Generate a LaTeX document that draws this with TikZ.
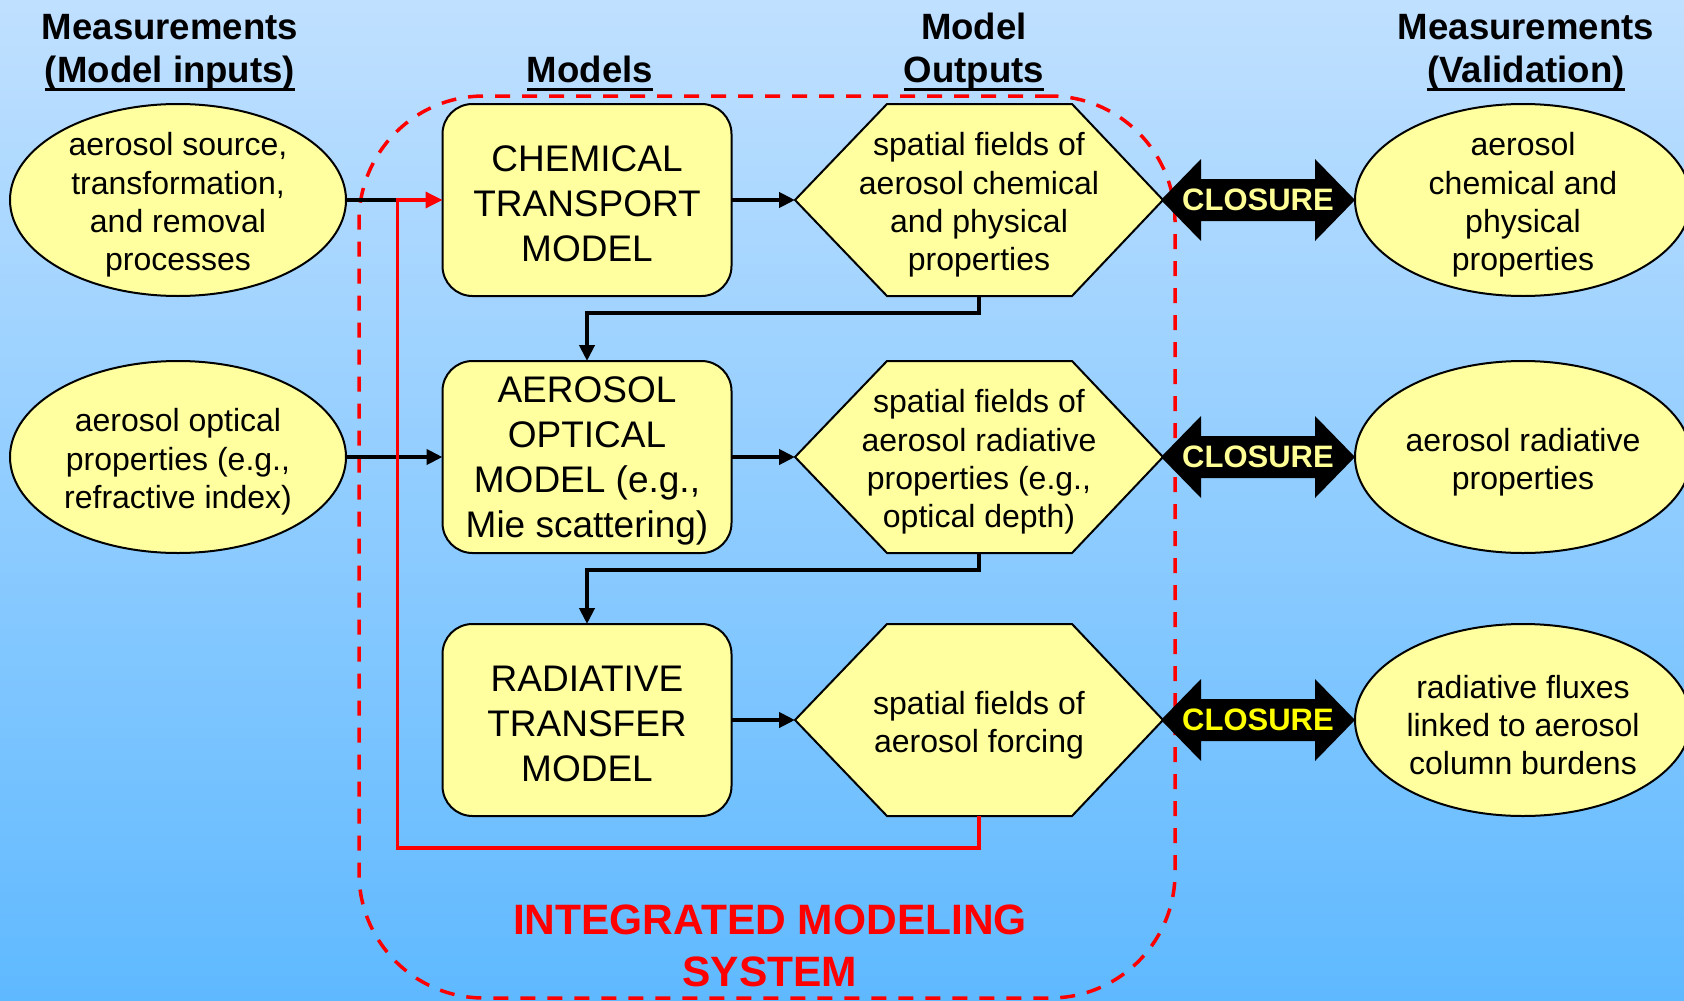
\documentclass[tikz,border=0pt]{standalone}
\usepackage{fontspec}
\setmainfont{Liberation Sans}
\usetikzlibrary{shapes.geometric,arrows.meta}
\definecolor{skytop}{RGB}{192,224,255}
\definecolor{skybot}{RGB}{95,185,255}
\definecolor{paleyel}{RGB}{255,255,160}
\definecolor{clsA}{RGB}{255,255,150}
\definecolor{clsB}{RGB}{255,255,0}
\begin{document}
\begin{tikzpicture}[x=1pt,y=-1pt,
  every node/.style={inner sep=0pt, outer sep=0pt},
  oval/.style={ellipse, draw=black, line width=2pt, fill=paleyel,
    minimum width=336pt, minimum height=192pt},
  body/.style={align=center, yshift=-5pt, font=\fontsize{32pt}{38.3pt}\selectfont},
  model/.style={rectangle, rounded corners=30pt, draw=black, line width=2pt,
    fill=paleyel, minimum width=289pt, minimum height=192pt},
  modeltext/.style={align=center, yshift=-4pt, font=\fontsize{37pt}{44.8pt}\selectfont},
  hexbox/.style={minimum width=368pt, minimum height=192pt},
  hexshape/.style={draw=black, line width=2pt, fill=paleyel, line join=miter},
  head/.style={anchor=base, font=\bfseries\fontsize{36.6pt}{43pt}\selectfont},
  uline/.style={line width=3pt},
  conn/.style={draw=black, line width=4.5pt, line join=miter,
    -{Triangle[length=16pt,width=15pt]}},
  plain/.style={draw=black, line width=4.5pt},
  feed/.style={draw=red, line width=3.5pt, line join=miter,
    -{Triangle[length=17pt,width=16pt]}},
  closetext/.style={font=\bfseries\fontsize{31pt}{31pt}\selectfont},
  system/.style={text=red, align=center,
    font=\bfseries\fontsize{42.5pt}{52pt}\selectfont},
]
% sky background
\shade[top color=skytop, bottom color=skybot] (0,0) rectangle (1684,1001);
\useasboundingbox (0,0) rectangle (1684,1001);
\clip (0,0) rectangle (1684,1001);

% column headings
\node[head] (hA1) at (170,39) {Measurements};
\node[head] (hA2) at (170,82) {(Model inputs)};
\node[head] (hB2) at (590,82) {Models};
\node[head] (hC1) at (974,39) {Model};
\node[head] (hC2) at (974,82) {Outputs};
\node[head] (hD1) at (1526,39) {Measurements};
\node[head] (hD2) at (1526,82) {(Validation)};
\foreach \h in {hA2,hB2,hC2,hD2}
  \draw[uline] ([yshift=-7pt]\h.base west) -- ([yshift=-7pt]\h.base east);

% integrated modeling system boundary
\node[draw=red, line width=3.5pt, dash pattern=on 15pt off 12pt,
  rounded corners=125pt, minimum width=816pt, minimum height=902pt]
  (ims) at (767,547) {};
\node[system] (imstext) at (770,946) {INTEGRATED MODELING\\SYSTEM};

% input measurements
\node[oval] (l1) at (178,200) {};
\node[body] (l1t) at (l1) {aerosol source,\\transformation,\\and removal\\processes};
\node[oval] (l2) at (178,457) {};
\node[body] (l2t) at (l2) {aerosol optical\\properties (e.g.,\\refractive index)};

% models
\node[model] (ctm) at (587,200) {};
\node[modeltext] (ctmt) at (ctm) {CHEMICAL\\TRANSPORT\\MODEL};
\node[model] (aom) at (587,457) {};
\node[modeltext] (aomt) at (aom) {AEROSOL\\OPTICAL\\MODEL (e.g.,\\Mie scattering)};
\node[model] (rtm) at (587,720) {};
\node[modeltext] (rtmt) at (rtm) {RADIATIVE\\TRANSFER\\MODEL};

% model outputs (hexagons)
\foreach \n/\yy in {1/200,2/457,3/720}{
  \coordinate (hc\n) at (979,\yy);
  \path[hexshape] ([shift={(-184,0)}]hc\n) -- ([shift={(-92,-96)}]hc\n)
    -- ([shift={(93,-96)}]hc\n) -- ([shift={(184,0)}]hc\n)
    -- ([shift={(93,96)}]hc\n) -- ([shift={(-92,96)}]hc\n) -- cycle;
}
\node[hexbox] (hex1) at (hc1) {};
\node[hexbox] (hex2) at (hc2) {};
\node[hexbox] (hex3) at (hc3) {};
\node[body] (hex1t) at (hex1) {spatial fields of\\aerosol chemical\\and physical\\properties};
\node[body] (hex2t) at (hex2) {spatial fields of\\aerosol radiative\\properties (e.g.,\\optical depth)};
\node[body] (hex3t) at (hex3) {spatial fields of\\aerosol forcing};

% validation measurements
\node[oval] (r1) at (1523,200) {};
\node[body] (r1t) at (r1) {aerosol\\chemical and\\physical\\properties};
\node[oval] (r2) at (1523,457) {};
\node[body] (r2t) at (r2) {aerosol radiative\\properties};
\node[oval] (r3) at (1523,720) {};
\node[body] (r3t) at (r3) {radiative fluxes\\linked to aerosol\\column burdens};

% closure arrows
\foreach \n/\yy/\col in {1/200/clsA,2/457/clsA,3/720/clsB}{
  \coordinate (cp\n) at (1258,\yy);
  \fill[black] ([shift={(-97,0)}]cp\n) -- ([shift={(-57,-41)}]cp\n)
    -- ([shift={(-57,-21)}]cp\n) -- ([shift={(57,-21)}]cp\n)
    -- ([shift={(57,-41)}]cp\n) -- ([shift={(97,0)}]cp\n)
    -- ([shift={(57,41)}]cp\n) -- ([shift={(57,21)}]cp\n)
    -- ([shift={(-57,21)}]cp\n) -- ([shift={(-57,41)}]cp\n) -- cycle;
  \node[closetext, text=\col] (cl\n) at (cp\n) {CLOSURE};
}

% model chain
\draw[plain] (l1.east) -- ([xshift=-45pt]ctm.west);
\draw[conn] (l2.east) -- (aom.west);
\draw[conn] (ctm.east) -- (hex1.west);
\draw[conn] (aom.east) -- (hex2.west);
\draw[conn] (rtm.east) -- (hex3.west);
\draw[conn] (hex1.south) -- ++(0,17) -| (aom.north);
\draw[conn] (hex2.south) -- ++(0,17) -| (rtm.north);

% feedback loop
\draw[feed] (hex3.south) -- ++(0,32) -| ([xshift=-45pt]ctm.west) -- (ctm.west);
\end{tikzpicture}
\end{document}
